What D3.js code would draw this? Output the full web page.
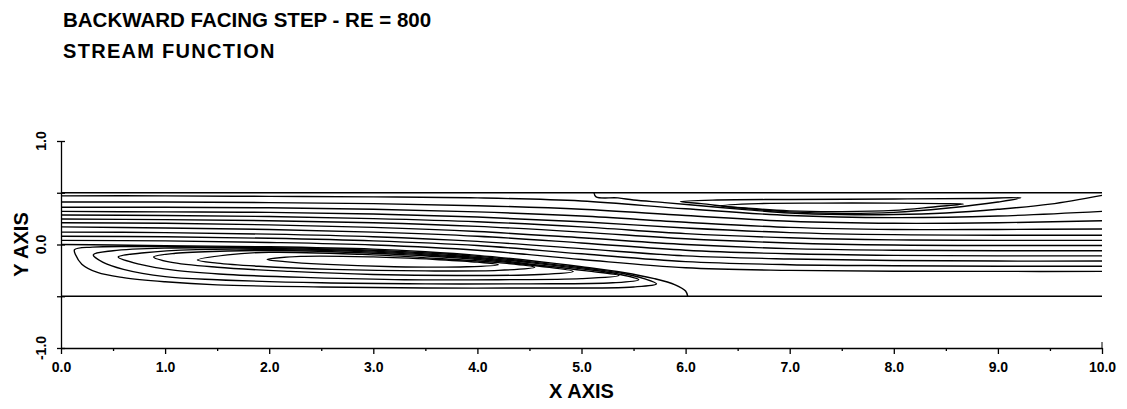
<!DOCTYPE html>
<html>
<head>
<meta charset="utf-8">
<script src="https://cdn.jsdelivr.net/npm/d3@7/dist/d3.min.js"></script>
<style>
  body { margin: 0; background: #fff; }
  svg text { font-family: "Liberation Sans", Arial, sans-serif; font-weight: bold; fill: #000; }
</style>
</head>
<body>
<div id="chart"></div>
<script>
// stream function contours (x, y in channel units)

// main flow streamlines: y at each x station, bottom line first
var xStations = [0, 1, 2, 3, 4, 5, 6, 7, 8, 9, 10];
var mainFlow = [
  [0.04, 0.035, 0.02, -0.005, -0.055, -0.145, -0.225, -0.25, -0.258, -0.26, -0.26],
  [0.08, 0.075, 0.06, 0.035, -0.01, -0.09, -0.165, -0.195, -0.205, -0.21, -0.21],
  [0.12, 0.115, 0.10, 0.075, 0.03, -0.04, -0.11, -0.14, -0.155, -0.16, -0.16],
  [0.17, 0.16, 0.145, 0.12, 0.08, 0.015, -0.055, -0.09, -0.105, -0.11, -0.11],
  [0.21, 0.205, 0.19, 0.165, 0.125, 0.065, 0.0, -0.04, -0.055, -0.06, -0.06],
  [0.246, 0.24, 0.23, 0.21, 0.175, 0.12, 0.055, 0.015, -0.005, -0.01, -0.01],
  [0.285, 0.28, 0.27, 0.25, 0.22, 0.17, 0.105, 0.065, 0.045, 0.04, 0.04],
  [0.32, 0.315, 0.31, 0.295, 0.265, 0.22, 0.16, 0.115, 0.095, 0.09, 0.09],
  [0.36, 0.36, 0.355, 0.34, 0.315, 0.275, 0.215, 0.165, 0.145, 0.145, 0.15],
  [0.41, 0.41, 0.405, 0.395, 0.375, 0.34, 0.28, 0.225, 0.205, 0.21, 0.23],
  [0.47, 0.47, 0.465, 0.46, 0.45, 0.42, 0.345, 0.28, 0.26, 0.275, 0.32]
];

// dividing streamline of the step eddy, corner to reattachment
var lowerSeparatrix = [[0, 0], [0.5, -0.005], [1, -0.012], [2, -0.022], [3, -0.045], [3.5, -0.07],
  [4, -0.105], [4.5, -0.155], [5, -0.215], [5.4, -0.27], [5.7, -0.33], [5.9, -0.39], [6.0, -0.45], [6.02, -0.5]];

// dividing streamline of the upper wall eddy
var upperSeparatrix = [[5.12, 0.5], [5.14, 0.46], [5.35, 0.45], [5.5, 0.43], [5.8, 0.405], [6.2, 0.37],
  [6.6, 0.335], [7, 0.305], [7.5, 0.29], [8, 0.29], [8.5, 0.305], [9, 0.34], [9.5, 0.39], [10, 0.475]];

// closed contours of the step eddy, outer first
var lowerEddy = [
  [[0.13, -0.05], [0.3, -0.025], [0.8, -0.02], [1.5, -0.026], [2.0, -0.03], [3.0, -0.055], [4.0, -0.115],
   [4.5, -0.165], [5.0, -0.225], [5.4, -0.28], [5.6, -0.33], [5.72, -0.38], [5.5, -0.41], [4.5, -0.42],
   [3.5, -0.42], [2.5, -0.41], [1.5, -0.39], [1.0, -0.36], [0.6, -0.32], [0.35, -0.27], [0.2, -0.19], [0.14, -0.1]],
  [[0.31, -0.10], [0.5, -0.06], [1.0, -0.035], [2.0, -0.038], [3.0, -0.064], [4.0, -0.125], [4.5, -0.175],
   [5.0, -0.235], [5.35, -0.285], [5.55, -0.34], [5.3, -0.37], [4.5, -0.38], [3.5, -0.38],
   [2.5, -0.37], [1.5, -0.34], [1.0, -0.31], [0.6, -0.24], [0.4, -0.17]],
  [[0.55, -0.12], [0.8, -0.08], [1.3, -0.05], [2.0, -0.047], [3.0, -0.074], [4.0, -0.135], [4.6, -0.2],
   [5.05, -0.255], [5.36, -0.30], [5.0, -0.33], [4.2, -0.34], [3.3, -0.34], [2.4, -0.32],
   [1.6, -0.29], [1.1, -0.25], [0.75, -0.19]],
  [[0.89, -0.12], [1.1, -0.085], [1.6, -0.063], [2.0, -0.058], [3.0, -0.085], [4.0, -0.145], [4.6, -0.21],
   [4.92, -0.26], [4.6, -0.29], [3.8, -0.30], [3.0, -0.29], [2.2, -0.26], [1.5, -0.22], [1.05, -0.17]],
  [[1.31, -0.15], [1.6, -0.10], [2.0, -0.075], [3.0, -0.10], [3.7, -0.14], [4.2, -0.175], [4.55, -0.22],
   [4.2, -0.25], [3.5, -0.255], [2.6, -0.24], [1.9, -0.21], [1.5, -0.18]],
  [[1.98, -0.145], [2.3, -0.115], [3.0, -0.12], [3.6, -0.145], [4.0, -0.17], [4.2, -0.195], [3.9, -0.215],
   [3.2, -0.215], [2.5, -0.19], [2.15, -0.165]]
];

// closed contours of the upper wall eddy, outer first
var upperEddy = [
  [[5.95, 0.415], [6.3, 0.43], [7, 0.435], [8, 0.44], [8.8, 0.445], [9.22, 0.45], [9.0, 0.41], [8.5, 0.35],
   [8.0, 0.31], [7.5, 0.30], [7.0, 0.315], [6.5, 0.355], [6.15, 0.395]],
  [[6.34, 0.375], [6.7, 0.395], [7.3, 0.40], [8.0, 0.40], [8.45, 0.395], [8.67, 0.39], [8.4, 0.365],
   [8.0, 0.33], [7.5, 0.318], [7.0, 0.325], [6.6, 0.35]]
];

var wallLevels = [0.5, -0.5];
var xMajorTicks = [0, 1, 2, 3, 4, 5, 6, 7, 8, 9, 10];
var xMinorTicks = [0.5, 1.5, 2.5, 3.5, 4.5, 5.5, 6.5, 7.5, 8.5, 9.5];
var xTickLabels = ["0.0", "1.0", "2.0", "3.0", "4.0", "5.0", "6.0", "7.0", "8.0", "9.0", "10.0"];
var yTicks = [-1, -0.5, 0, 0.5, 1];
var yLabelValues = [-1, 0, 1];
var yTickLabels = ["-1.0", "0.0", "1.0"];

var width = 1127, height = 409;
var svg = d3.select("#chart").append("svg").attr("width", width).attr("height", height);

var x = d3.scaleLinear().domain([0, 10]).range([61, 1102]);
var y = d3.scaleLinear().domain([-1, 1]).range([348, 141]);

// titles
svg.append("text").attr("x", 63).attr("y", 27).style("font-size", "20.5px")
  .text("BACKWARD FACING STEP - RE = 800");
svg.append("text").attr("x", 63).attr("y", 58).style("font-size", "20px").style("letter-spacing", "1.3px")
  .text("STREAM FUNCTION");

// axes
var xAxis = svg.append("g").attr("transform", "translate(0," + y(-1) + ")")
  .call(d3.axisBottom(x).tickValues(xMajorTicks).tickSize(6).tickSizeOuter(0)
    .tickFormat(function(d, i) { return xTickLabels[i]; }));
xAxis.selectAll("text").attr("dy", "1.05em").style("font-size", "14px");
svg.append("g").attr("transform", "translate(0," + y(-1) + ")")
  .call(d3.axisBottom(x).tickValues(xMinorTicks).tickSize(3).tickFormat(""))
  .select(".domain").remove();
// hook up at the far end
svg.append("line").attr("x1", x(10)).attr("x2", x(10)).attr("y1", y(-1)).attr("y2", y(-1) - 6)
  .attr("stroke", "#000");

var yAxis = svg.append("g").attr("transform", "translate(" + x(0) + ",0)")
  .call(d3.axisLeft(y).tickValues(yTicks).tickSize(4).tickSizeOuter(0).tickFormat(""));
yAxis.selectAll(".tick line").attr("x1", 4);
svg.selectAll(".domain, .tick line").attr("stroke", "#000").attr("stroke-width", 1.3);

svg.selectAll(".ylab").data(yLabelValues).enter().append("text")
  .attr("transform", function(d) { return "translate(46," + y(d) + ") rotate(-90)"; })
  .attr("text-anchor", "middle").style("font-size", "14px")
  .text(function(d, i) { return yTickLabels[i]; });

svg.append("text").attr("x", x(5)).attr("y", 398).attr("text-anchor", "middle")
  .style("font-size", "20px").text("X AXIS");
svg.append("text").attr("transform", "translate(28," + y(0) + ") rotate(-90)")
  .attr("text-anchor", "middle").style("font-size", "20px").text("Y AXIS");

// contours
var plot = svg.append("g").attr("fill", "none").attr("stroke", "#000")
  .attr("stroke-width", 1.4).attr("stroke-linejoin", "round");

var openLine = d3.line().x(function(d) { return x(d[0]); }).y(function(d) { return y(d[1]); })
  .curve(d3.curveCatmullRom.alpha(0.5));
var closedLine = d3.line().x(function(d) { return x(d[0]); }).y(function(d) { return y(d[1]); })
  .curve(d3.curveCatmullRomClosed.alpha(0.5));

plot.selectAll(".wall").data(wallLevels).enter().append("line")
  .attr("x1", x(0)).attr("x2", x(10))
  .attr("y1", function(d) { return y(d); }).attr("y2", function(d) { return y(d); });

plot.selectAll(".main").data(mainFlow).enter().append("path")
  .attr("d", function(row) { return openLine(row.map(function(v, i) { return [xStations[i], v]; })); });

plot.append("path").attr("d", openLine(lowerSeparatrix));
plot.append("path").attr("d", openLine(upperSeparatrix));

plot.selectAll(".eddyLow").data(lowerEddy).enter().append("path").attr("d", closedLine);
plot.selectAll(".eddyUp").data(upperEddy).enter().append("path").attr("d", closedLine);
</script>
</body>
</html>
